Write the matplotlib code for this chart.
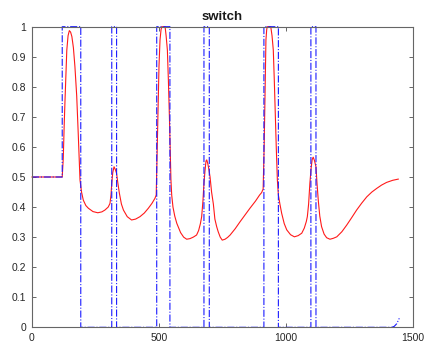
import matplotlib
matplotlib.use("Agg")
import matplotlib.pyplot as plt

# red curve (state)
red_x = [0, 119, 123, 127, 130, 137, 142, 147, 152, 157, 163, 169, 176, 182, 189,
         195, 202, 212, 222, 240, 259, 275, 287, 300, 307, 311, 314, 318, 323, 328,
         333, 338, 344, 352, 360, 375, 392, 408, 425, 442, 458, 472, 484, 489, 493,
         497, 500, 504, 508, 511, 518, 524, 528, 533, 537, 541, 544, 547, 550, 555,
         562, 570, 585, 597, 609, 622, 635, 648, 656, 663, 668, 673, 677, 681, 685,
         688, 692, 696, 701, 707, 714, 720, 727, 733, 741, 749, 760, 770, 780, 800,
         819, 838, 858, 880, 896, 904, 910, 914, 917, 919, 921, 924, 926, 933, 940,
         945, 950, 954, 958, 962, 966, 970, 976, 983, 993, 1003, 1018, 1033, 1048,
         1062, 1072, 1080, 1084, 1089, 1094, 1099, 1103, 1107, 1112, 1118, 1122,
         1127, 1133, 1140, 1150, 1160, 1173, 1186, 1200, 1220, 1239, 1258, 1278,
         1298, 1318, 1338, 1357, 1376, 1396, 1420, 1442]
red_y = [0.5, 0.5, 0.56, 0.68, 0.756, 0.922, 0.97, 0.987, 0.982, 0.967, 0.93, 0.867,
         0.77, 0.645, 0.49, 0.45, 0.423, 0.405, 0.396, 0.385, 0.381, 0.384, 0.39,
         0.40, 0.412, 0.44, 0.479, 0.515, 0.534, 0.525, 0.512, 0.48, 0.446, 0.41,
         0.39, 0.368, 0.357, 0.36, 0.368, 0.38, 0.396, 0.412, 0.429, 0.44, 0.6,
         0.756, 0.87, 0.956, 0.99, 1.0, 1.0, 1.0, 0.97, 0.922, 0.82, 0.70, 0.59,
         0.49, 0.44, 0.4, 0.37, 0.346, 0.315, 0.3, 0.293, 0.295, 0.3, 0.307, 0.322,
         0.345, 0.368, 0.42, 0.479, 0.52, 0.553, 0.557, 0.545, 0.527, 0.5, 0.45,
         0.41, 0.36, 0.335, 0.318, 0.30, 0.29, 0.293, 0.299, 0.307, 0.328, 0.351,
         0.373, 0.396, 0.42, 0.44, 0.448, 0.46, 0.6, 0.756, 0.86, 0.956, 0.99, 1.0,
         1.0, 1.0, 0.97, 0.922, 0.82, 0.70, 0.59, 0.49, 0.44, 0.41, 0.379, 0.345,
         0.324, 0.308, 0.301, 0.305, 0.313, 0.33, 0.352, 0.368, 0.41, 0.479, 0.53,
         0.558, 0.566, 0.555, 0.534, 0.48, 0.423, 0.37, 0.335, 0.31, 0.298, 0.293,
         0.296, 0.301, 0.318, 0.34, 0.364, 0.39, 0.413, 0.434, 0.45, 0.462, 0.473,
         0.482, 0.489, 0.493]

# blue switch signal
blue_x = [0, 119, 119, 192, 192, 314, 314, 333, 333, 491, 491, 543, 543, 677, 677,
          698, 698, 913, 913, 970, 970, 1098, 1098, 1118, 1118, 1416, 1426, 1436, 1446]
blue_y = [0.5, 0.5, 1, 1, 0, 0, 1, 1, 0, 0, 1, 1, 0, 0, 1,
          1, 0, 0, 1, 1, 0, 0, 1, 1, 0, 0, 0.003, 0.012, 0.03]

x_ticks = [0, 500, 1000, 1500]
y_ticks = [0, 0.1, 0.2, 0.3, 0.4, 0.5, 0.6, 0.7, 0.8, 0.9, 1]
y_labels = ['0', '0.1', '0.2', '0.3', '0.4', '0.5', '0.6', '0.7', '0.8', '0.9', '1']

plt.rcParams['font.family'] = ['Liberation Sans', 'DejaVu Sans']

fig = plt.figure(figsize=(4.25, 3.46), dpi=100)
ax = fig.add_axes([32 / 425, 1 - 327.3 / 346, 381 / 425, 300.6 / 346])

ax.plot(red_x, red_y, color='#ff1a1a', lw=0.8, clip_on=False)
ax.plot(blue_x, blue_y, color='#1a1aff', lw=0.8, linestyle='-.', clip_on=False)

ax.set_xlim(0, 1500)
ax.set_ylim(0, 1)
ax.set_xticks(x_ticks)
ax.set_xticklabels([str(t) for t in x_ticks])
ax.set_yticks(y_ticks)
ax.set_yticklabels(y_labels)

for s in ax.spines.values():
    s.set_color('#666666')
    s.set_linewidth(0.8)
ax.tick_params(direction='in', length=2.8, width=0.7, colors='#666666',
               labelcolor='#262626', labelsize=7.5, top=True, right=True, pad=4)

ax.set_title('switch', fontsize=9.5, fontweight='bold', pad=4.5, color='#1a1a1a')

fig.savefig('out.png', dpi=100)
